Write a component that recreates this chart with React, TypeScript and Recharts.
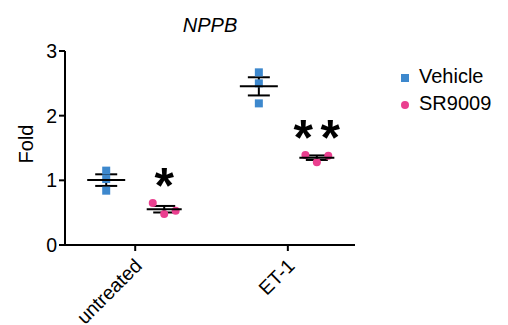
import { ScatterChart, Scatter, XAxis, YAxis, ErrorBar, Label } from "recharts";

// values (fold change, n = 3 per group)
const CATEGORIES = ["untreated", "ET-1"];
const VEHICLE = [
  [1.15, 1.02, 0.84],
  [2.67, 2.5, 2.19],
];
const SR9009 = [
  [0.65, 0.48, 0.53],
  [1.39, 1.28, 1.38],
];
const SR_JITTER = [-0.075, 0, 0.075];
const STARS = ["*", "**"];
const STAR_HEIGHT = [1.08, 1.82];
const Y_TICKS = [0, 1, 2, 3];

const BLUE = "#3d88cd";
const PINK = "#ea3f8f";
const FONT = "'Liberation Sans', Arial, sans-serif";
const DODGE = 0.19;

const mean = (a: number[]) => a.reduce((s, v) => s + v, 0) / a.length;
const sem = (a: number[]) => {
  const m = mean(a);
  const sd = Math.sqrt(a.reduce((s, v) => s + (v - m) ** 2, 0) / (a.length - 1));
  return sd / Math.sqrt(a.length);
};

const vehiclePoints = VEHICLE.flatMap((vals, i) => vals.map((y) => ({ x: i - DODGE, y })));
const srPoints = SR9009.flatMap((vals, i) =>
  vals.map((y, j) => ({ x: i + DODGE + SR_JITTER[j], y }))
);
const vehicleSummary = VEHICLE.map((vals, i) => ({ x: i - DODGE, y: mean(vals), sem: sem(vals) }));
const srSummary = SR9009.map((vals, i) => ({ x: i + DODGE, y: mean(vals), sem: sem(vals) }));
const starData = STARS.map((s, i) => ({ x: i + DODGE, y: STAR_HEIGHT[i], label: s }));

const Square = (p: any) => <rect x={p.cx - 4} y={p.cy - 4} width={8} height={8} fill={BLUE} />;
const Dot = (p: any) => <circle cx={p.cx} cy={p.cy} r={4} fill={PINK} />;
const meanLine = (w: number) => (p: any) =>
  <line x1={p.cx - w / 2} x2={p.cx + w / 2} y1={p.cy} y2={p.cy} stroke="#000" strokeWidth={2} />;

const Star = (p: any) => {
  const chars = p.payload.label.split("");
  return (
    <g>
      {chars.map((c: string, i: number) => (
        <text
          key={i}
          x={p.cx + (i - (chars.length - 1) / 2) * 27}
          y={p.cy + 28}
          textAnchor="middle"
          fontFamily={FONT}
          fontWeight="bold"
          fontSize={50}
          fill="#000"
        >
          {c}
        </text>
      ))}
    </g>
  );
};

const XTick = (p: any) => {
  const x = p.x + 8;
  const y = p.y + 14;
  return (
    <text
      x={x}
      y={y}
      transform={`rotate(-45, ${x}, ${y})`}
      textAnchor="end"
      fontFamily={FONT}
      fontSize={19.5}
      fill="#000"
    >
      {CATEGORIES[p.payload.value]}
    </text>
  );
};

const FoldLabel = (p: any) => {
  const vb = p.viewBox;
  const cy = vb.y + vb.height / 2 - 4;
  return (
    <text
      x={25}
      y={cy}
      transform={`rotate(-90, 25, ${cy})`}
      textAnchor="middle"
      fontFamily={FONT}
      fontSize={20}
      fill="#000"
    >
      Fold
    </text>
  );
};

const axisStroke = { stroke: "#000", strokeWidth: 2 };

export default function App() {
  return (
    <div style={{ position: "relative", width: 486, height: 317, overflow: "hidden", fontFamily: FONT }}>
      <div
        style={{
          position: "absolute",
          left: 0,
          width: 404,
          top: 7,
          textAlign: "center",
          fontStyle: "italic",
          fontSize: 20,
          lineHeight: "20px",
        }}
      >
        NPPB
      </div>

      <ScatterChart width={500} height={317} margin={{ top: 43, right: 153, bottom: 40, left: 0 }}>
        <XAxis
          type="number"
          dataKey="x"
          domain={[-0.46, 1.44]}
          ticks={[0, 1]}
          interval={0}
          allowDataOverflow
          height={40}
          tickSize={6}
          stroke="#000"
          strokeWidth={2}
          axisLine={axisStroke}
          tickLine={axisStroke}
          tick={<XTick />}
        />
        <YAxis
          type="number"
          dataKey="y"
          domain={[0, 3]}
          ticks={Y_TICKS}
          interval={0}
          width={57}
          tickSize={6}
          stroke="#000"
          strokeWidth={2}
          axisLine={axisStroke}
          tickLine={axisStroke}
          tick={{ fill: "#000", stroke: "none", fontSize: 19.5, fontFamily: FONT }}
        >
          <Label content={<FoldLabel />} />
        </YAxis>
        <Scatter data={vehiclePoints} shape={<Square />} isAnimationActive={false} />
        <Scatter data={srPoints} shape={<Dot />} isAnimationActive={false} />
        <Scatter data={vehicleSummary} shape={meanLine(38)} isAnimationActive={false}>
          <ErrorBar dataKey="sem" direction="y" width={11} stroke="#000" strokeWidth={2} />
        </Scatter>
        <Scatter data={srSummary} shape={meanLine(35)} isAnimationActive={false}>
          <ErrorBar dataKey="sem" direction="y" width={11} stroke="#000" strokeWidth={2} />
        </Scatter>
        <Scatter data={starData} shape={<Star />} isAnimationActive={false} />
      </ScatterChart>

      <div style={{ position: "absolute", left: 393, top: 66, width: 8, height: 8, background: BLUE }} />
      <div style={{ position: "absolute", left: 411, top: 58, fontSize: 20, lineHeight: "20px" }}>Vehicle</div>
      <div
        style={{ position: "absolute", left: 393, top: 93, width: 8, height: 8, borderRadius: 4, background: PINK }}
      />
      <div style={{ position: "absolute", left: 411, top: 85, fontSize: 20, lineHeight: "20px" }}>SR9009</div>
    </div>
  );
}
